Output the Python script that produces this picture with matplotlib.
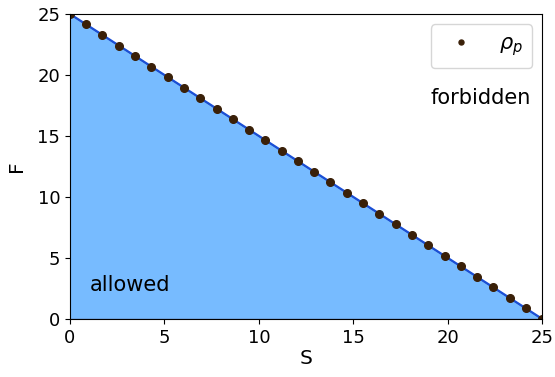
import numpy as np
import matplotlib.pyplot as plt

# boundary line S + F = 25
line_s = [0, 25]
line_f = [25, 0]

# rho_p points along the boundary
rho_s = [0.00, 0.86, 1.72, 2.59, 3.45, 4.31, 5.17, 6.03, 6.90, 7.76,
         8.62, 9.48, 10.34, 11.21, 12.07, 12.93, 13.79, 14.66, 15.52, 16.38,
         17.24, 18.10, 18.97, 19.83, 20.69, 21.55, 22.41, 23.28, 24.14, 25.00]
rho_f = [25.00, 24.14, 23.28, 22.41, 21.55, 20.69, 19.83, 18.97, 18.10, 17.24,
         16.38, 15.52, 14.66, 13.79, 12.93, 12.07, 11.21, 10.34, 9.48, 8.62,
         7.76, 6.90, 6.03, 5.17, 4.31, 3.45, 2.59, 1.72, 0.86, 0.00]

plt.rcParams['font.size'] = 13

fig, ax = plt.subplots(figsize=(5.55, 3.77), dpi=100)
fig.subplots_adjust(left=0.126, right=0.977, top=0.963, bottom=0.154)

ax.fill_between(line_s, line_f, 0, facecolor='#77bbff', edgecolor='#5a3050', lw=0.8)
ax.plot(line_s, line_f, color='#1a4fd6', lw=1.6)
ax.plot(rho_s, rho_f, 'o', color='#3a2008', ms=5.5, label=r'$\rho_p$')

ax.text(1.05, 2.8, 'allowed', va='center', ha='left', fontsize=15)
ax.text(24.4, 18.1, 'forbidden', va='center', ha='right', fontsize=15)

ax.set_xlim(0, 25)
ax.set_ylim(0, 25)
ax.set_xticks([0, 5, 10, 15, 20, 25])
ax.set_yticks([0, 5, 10, 15, 20, 25])
ax.set_xlabel('S', fontsize=14.5, labelpad=2)
ax.set_ylabel('F', fontsize=14.5, labelpad=8)
ax.legend(loc='upper right', fontsize=15, markerscale=0.65,
          handletextpad=0.8, borderpad=0.45)

fig.savefig('out.png')
